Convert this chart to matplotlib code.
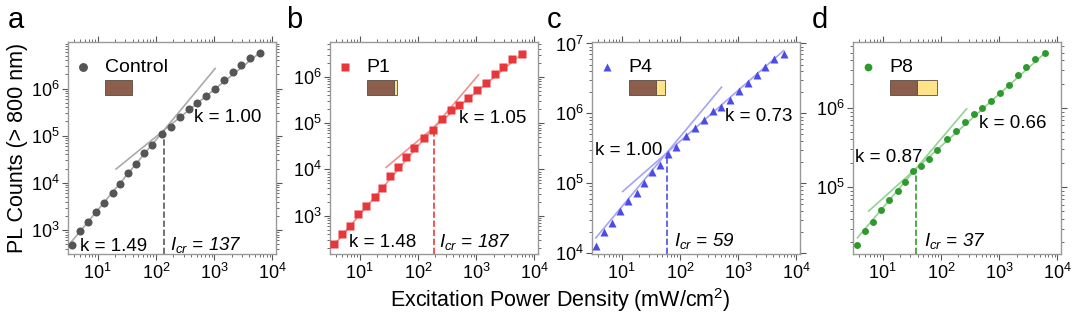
import matplotlib
matplotlib.use("Agg")
import matplotlib.pyplot as plt
import numpy as np
from matplotlib.patches import Rectangle
from matplotlib.ticker import LogLocator

plt.rcParams['font.family'] = ['Liberation Sans', 'DejaVu Sans']
plt.rcParams['mathtext.fontset'] = 'custom'
plt.rcParams['mathtext.rm'] = 'Liberation Sans'
plt.rcParams['mathtext.it'] = 'Liberation Sans:italic'

# excitation power density (mW/cm2), same for all samples
power = [3.6, 4.9, 6.7, 9.4, 13, 18, 24, 33, 45, 62, 87, 128, 180, 258,
         365, 502, 717, 1013, 1450, 2074, 2890, 4190, 6000]

# PL counts (> 800 nm)
pl_control = [488, 937, 1456, 2376, 3816, 6030, 9520, 16300, 25400, 42800,
              63300, 106700, 152800, 253600, 375300, 487500, 698000, 1.0e6,
              1.5e6, 2.19e6, 3.13e6, 4.35e6, 5.56e6]
pl_p1 = [252, 406, 615, 1095, 1655, 2540, 3900, 7060, 11030, 19000, 28300,
         48800, 72500, 120900, 188700, 242000, 342000, 517000, 743000,
         1.12e6, 1.64e6, 2.36e6, 3.07e6]
pl_p4 = [12770, 20300, 27100, 40400, 55000, 73300, 101000, 145700, 183800,
         261800, 334000, 471000, 621000, 792000, 1.08e6, 1.25e6, 1.57e6,
         2.08e6, 2.68e6, 3.49e6, 4.66e6, 5.94e6, 7.18e6]
pl_p8 = [18600, 28300, 36400, 51200, 68400, 89000, 114600, 157900, 182600,
         226000, 297000, 409000, 507000, 665000, 848000, 1.0e6, 1.24e6,
         1.55e6, 1.97e6, 2.57e6, 3.27e6, 4.1e6, 4.88e6]

names = ['Control', 'P1', 'P4', 'P8']
letters = ['a', 'b', 'c', 'd']
series = [pl_control, pl_p1, pl_p4, pl_p8]
k_low = [1.49, 1.48, 1.00, 0.87]
k_high = [1.00, 1.05, 0.73, 0.66]
i_cr = [137, 187, 59, 37]
y_cr = [1.3e5, 8.0e4, 2.7e5, 1.7e5]
low_range = [(3.5, 1040), (3.5, 1100), (3.6, 518), (3.7, 276)]
high_range = [(20.7, 6000), (28.5, 6000), (10.4, 6000), (5.75, 6000)]
yellow_frac = [0.0, 0.014, 0.044, 0.095]

marker_col = ['#555555', '#e8373a', '#4b4be8', '#2e9a2e']
line_col = ['#aaaaaa', '#f29090', '#a4a4f2', '#93d293']
dash_col = ['#666666', '#ee4a4a', '#5a5aee', '#3aa83a']
markers = ['o', 's', '^', 'o']
msizes = [5.8, 5.2, 5.2, 5.0]
ylims = [(3.1e2, 9.7e6), (1.5e2, 5.6e6), (9.7e3, 1.05e7), (1.43e4, 6.8e6)]
lefts = [68, 330, 592, 853]
letter_x = [8, 286, 547, 812]

# text positions (axes fraction)
klow_pos = [(0.057, 0.012), (0.092, 0.035), (0.014, 0.467), (0.01, 0.435)]
khigh_pos = [(0.605, 0.624), (0.62, 0.62), (0.64, 0.629), (0.608, 0.593)]
icr_pos = [(0.489, 0.02), (0.525, 0.035), (0.393, 0.038), (0.341, 0.038)]

W, H = 1080, 319
fig = plt.figure(figsize=(W / 100, H / 100), dpi=100)

for i in range(4):
    ax = fig.add_axes([lefts[i] / W, (H - 254) / H, 208 / W, 212 / H])
    ax.set_xscale('log')
    ax.set_yscale('log')
    ax.set_xlim(3.1, 11500)
    ax.set_ylim(*ylims[i])
    for axis in (ax.xaxis, ax.yaxis):
        axis.set_major_locator(LogLocator(base=10, numticks=20))
        axis.set_minor_locator(LogLocator(base=10, subs=np.arange(2, 10), numticks=20))

    x = np.array(power)
    # power-law fits
    xl = np.geomspace(*low_range[i], 50)
    ax.plot(xl, y_cr[i] * (xl / i_cr[i]) ** k_low[i], color=line_col[i], lw=1.2, zorder=2)
    xh = np.geomspace(*high_range[i], 50)
    ax.plot(xh, y_cr[i] * (xh / i_cr[i]) ** k_high[i], color=line_col[i], lw=1.2, zorder=2)
    ax.plot([i_cr[i], i_cr[i]], [ylims[i][0], y_cr[i]], color=dash_col[i], lw=1.3,
            dashes=(3.5, 1.5), zorder=2)
    ax.plot(x, series[i], ls='none', marker=markers[i], ms=msizes[i],
            color=marker_col[i], mec='none', zorder=3)

    # legend-like label
    ax.plot([0.071], [0.882], transform=ax.transAxes, marker=markers[i], ms=msizes[i] + 0.6,
            color=marker_col[i], mec='none', clip_on=False)
    ax.text(0.176, 0.882, names[i], transform=ax.transAxes, fontsize=14, va='center', ha='left')
    bw = 0.133
    ax.add_patch(Rectangle((0.176, 0.75), bw, 0.071, transform=ax.transAxes,
                           facecolor='#8c5e4c', edgecolor='#5a4a40', lw=0.6))
    if yellow_frac[i] > 0:
        ax.add_patch(Rectangle((0.176 + bw, 0.75), yellow_frac[i], 0.071, transform=ax.transAxes,
                               facecolor='#ffe38a', edgecolor='#5a4a40', lw=0.6))

    ax.text(*klow_pos[i], 'k = %.2f' % k_low[i], transform=ax.transAxes, fontsize=13.5,
            va='baseline', ha='left')
    ax.text(*khigh_pos[i], 'k = %.2f' % k_high[i], transform=ax.transAxes, fontsize=13.5,
            va='baseline', ha='left')
    ax.text(*icr_pos[i], r'$I_{cr}$ = %d' % i_cr[i], transform=ax.transAxes, fontsize=13.5,
            va='baseline', ha='left', style='italic')

    for s in ax.spines.values():
        s.set_color('#999999')
        s.set_linewidth(1.0)
    ax.tick_params(which='both', direction='out', top=True, right=True, color='#555555',
                   labelsize=13, pad=1.5)
    ax.tick_params(which='major', length=4.5, width=0.8)
    ax.tick_params(which='minor', length=2.5, width=0.6)
    ax.tick_params(axis='x', pad=2)

    fig.text(letter_x[i] / W, 1 - 28 / H, letters[i], fontsize=21, va='baseline', ha='left')

fig.text(18 / W, 1 - 148 / H, 'PL Counts (> 800 nm)', rotation=90, fontsize=15.5,
         va='center', ha='center')
fig.text(560 / W, 1 - 300 / H, 'Excitation Power Density (mW/cm$^2$)', fontsize=15.5,
         va='center', ha='center')

fig.savefig('out.png', dpi=100)
